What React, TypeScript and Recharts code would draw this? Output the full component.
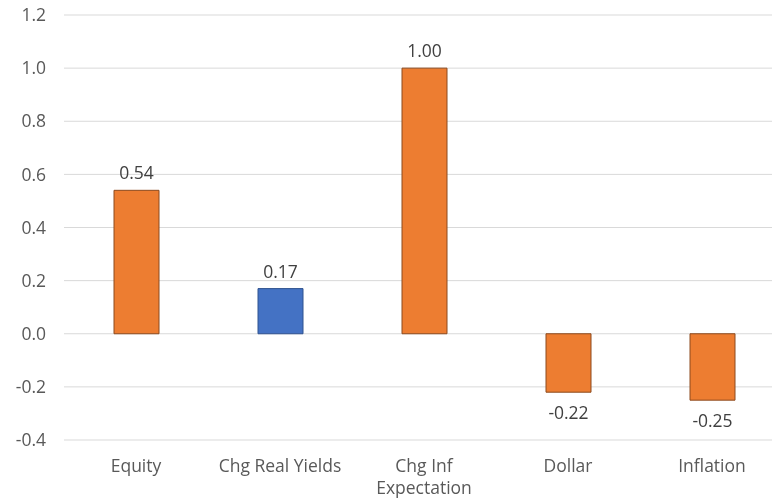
import { BarChart, Bar, XAxis, YAxis, CartesianGrid, Cell, LabelList } from "recharts";

const categories = ["Equity", "Chg Real Yields", "Chg Inf Expectation", "Dollar", "Inflation"];
const values = [0.54, 0.17, 1.0, -0.22, -0.25];
const yTicks = [-0.4, -0.2, 0, 0.2, 0.4, 0.6, 0.8, 1.0, 1.2];

const ORANGE = "#ED7D31";
const ORANGE_EDGE = "#8C4A1E";
const BLUE = "#4472C4";
const BLUE_EDGE = "#2F528F";

const data = categories.map((name, i) => ({ name, value: values[i] }));

const FONT = "'Open Sans', sans-serif";
const FS = 17.5;

function wrap(text: string, max: number) {
  const words = text.split(" ");
  const lines: string[] = [];
  let cur = "";
  for (const w of words) {
    const next = cur ? cur + " " + w : w;
    if (next.length > max && cur) {
      lines.push(cur);
      cur = w;
    } else {
      cur = next;
    }
  }
  if (cur) lines.push(cur);
  return lines;
}

function CategoryTick(props: any) {
  const { x, y, payload } = props;
  const lines = wrap(String(payload.value), 16);
  return (
    <text x={x} y={y + 30} textAnchor="middle" fill="#595959" fontSize={FS} fontFamily={FONT}>
      {lines.map((l, i) => (
        <tspan key={i} x={x} dy={i === 0 ? 0 : 22}>
          {l}
        </tspan>
      ))}
    </text>
  );
}

function ValueLabel(props: any) {
  const { x, y, width, height, value } = props;
  const neg = value < 0;
  const cx = x + width / 2;
  // negative bars come with a negative height
  const top = Math.min(y, y + height);
  const bottom = Math.max(y, y + height);
  return (
    <text
      x={cx}
      y={neg ? bottom + 27 : top - 11}
      textAnchor="middle"
      fill="#404040"
      fontSize={FS}
      fontFamily={FONT}
    >
      {value.toFixed(2)}
    </text>
  );
}

export default function App() {
  return (
    <div style={{ position: "fixed", top: 0, left: 0, width: 772, height: 500, overflow: "hidden" }}>
      <BarChart
        width={784}
        height={500}
        data={data}
        margin={{ top: 15, right: 0, bottom: 0, left: 0 }}
      >
        <CartesianGrid vertical={false} stroke="#D9D9D9" />
        <XAxis
          dataKey="name"
          axisLine={false}
          tickLine={false}
          tickSize={0}
          height={60}
          interval={0}
          tick={<CategoryTick />}
        />
        <YAxis
          domain={[-0.4, 1.2]}
          ticks={yTicks}
          width={64}
          axisLine={false}
          tickLine={false}
          tickSize={0}
          tickMargin={18}
          tickFormatter={(v: number) => v.toFixed(1)}
          tick={{ fill: "#595959", fontSize: FS, fontFamily: FONT }}
        />
        <Bar dataKey="value" barSize={45} isAnimationActive={false}>
          {data.map((d, i) => (
            <Cell
              key={d.name}
              fill={i === 1 ? BLUE : ORANGE}
              stroke={i === 1 ? BLUE_EDGE : ORANGE_EDGE}
              strokeWidth={1}
            />
          ))}
          <LabelList dataKey="value" content={<ValueLabel />} />
        </Bar>
      </BarChart>
    </div>
  );
}
